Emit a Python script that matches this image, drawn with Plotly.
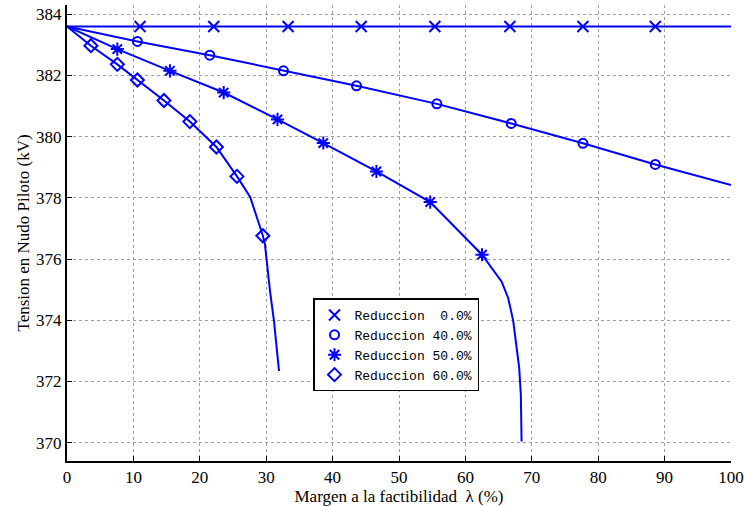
import plotly.graph_objects as go

# Reduccion 0.0%
lam_0 = [0, 11.0, 22.1, 33.3, 44.3, 55.4, 66.7, 77.7, 88.6, 100]
v_0 = [383.6] * 10
mk_0 = [1, 2, 3, 4, 5, 6, 7, 8]

# Reduccion 40.0%
lam_40 = [0, 10.6, 21.5, 32.6, 43.6, 55.7, 66.9, 77.7, 88.6, 100]
v_40 = [383.6, 383.11, 382.66, 382.15, 381.66, 381.07, 380.43, 379.78, 379.09, 378.42]
mk_40 = [1, 2, 3, 4, 5, 6, 7, 8]

# Reduccion 50.0%
lam_50 = [0, 7.58, 15.5, 23.6, 31.7, 38.6, 46.6, 54.7, 62.5, 65.46, 66.45, 67.2, 68.1, 68.35, 68.46]
v_50 = [383.6, 382.86, 382.15, 381.44, 380.56, 379.79, 378.86, 377.86, 376.14, 375.26, 374.72, 373.98, 372.45, 371.57, 370.04]
mk_50 = [1, 2, 3, 4, 5, 6, 7, 8]

# Reduccion 60.0%
lam_60 = [0, 3.6, 7.58, 10.6, 14.6, 18.5, 22.5, 25.6, 27.6, 29.5, 29.8, 30.57, 31.17, 31.93]
v_60 = [383.6, 382.97, 382.36, 381.85, 381.18, 380.49, 379.66, 378.70, 378.02, 376.76, 376.5, 374.96, 373.98, 372.34]
mk_60 = [1, 2, 3, 4, 5, 6, 7, 9]

series = [
    ("Reduccion\u00a0\u00a00.0%", lam_0, v_0, mk_0, "x-thin-open", 11),
    ("Reduccion\u00a040.0%", lam_40, v_40, mk_40, "circle-open", 9),
    ("Reduccion\u00a050.0%", lam_50, v_50, mk_50, "asterisk-open", 11),
    ("Reduccion\u00a060.0%", lam_60, v_60, mk_60, "diamond-open", 10),
]

x_ticks = [0, 10, 20, 30, 40, 50, 60, 70, 80, 90, 100]
y_ticks = [370, 372, 374, 376, 378, 380, 382, 384]

BLUE = "rgb(0,0,255)"
fig = go.Figure()
for name, xs, ys, mk, sym, sz in series:
    fig.add_trace(go.Scatter(x=xs, y=ys, mode="lines", line=dict(color=BLUE, width=2),
                             showlegend=False, hoverinfo="skip"))
for name, xs, ys, mk, sym, sz in series:
    fig.add_trace(go.Scatter(x=[xs[i] for i in mk], y=[ys[i] for i in mk], mode="markers",
                             name=name,
                             marker=dict(symbol=sym, size=sz, color=BLUE,
                                         line=dict(color=BLUE, width=2))))

axis_common = dict(
    showgrid=True, gridcolor="#a0a0a0", griddash="dot", gridwidth=1,
    showline=True, linecolor="black", linewidth=2,
    ticks="inside", ticklen=5, tickcolor="black", tickwidth=1,
    zeroline=False, mirror=False, ticklabeloverflow="allow", automargin=False,
    tickfont=dict(family="Liberation Serif", size=17, color="black"),
)

fig.update_layout(
    width=744, height=506,
    margin=dict(l=67, r=13, t=5, b=45),
    paper_bgcolor="white", plot_bgcolor="white",
    xaxis=dict(range=[0, 100], tickvals=x_ticks, ticktext=[str(t) for t in x_ticks],
               title=dict(text="Margen a la factibilidad  \u03bb (%)", standoff=0,
                          font=dict(family="Liberation Serif", size=17, color="black")),
               **axis_common),
    yaxis=dict(range=[369.4, 384.3], tickvals=y_ticks, ticktext=[str(t) for t in y_ticks],
               title=dict(text="Tension en Nudo Piloto (kV)", standoff=2,
                          font=dict(family="Liberation Serif", size=17, color="black")),
               **axis_common),
    legend=dict(x=0.3705, y=0.2544, xanchor="left", yanchor="middle",
                bgcolor="white", bordercolor="black", borderwidth=1.5,
                font=dict(family="Liberation Mono", size=13, color="black"),
                itemwidth=30, tracegroupgap=0),
    showlegend=True,
)

fig.write_html("out.html")
